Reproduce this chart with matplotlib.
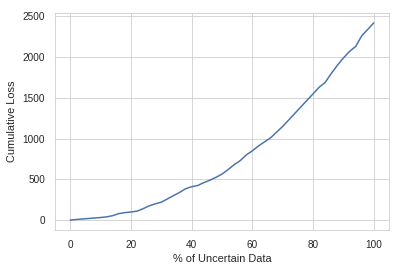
import matplotlib
matplotlib.use("Agg")
import matplotlib.pyplot as plt
import seaborn as sns

# cumulative loss
pct_incierto = [0, 2, 4, 6, 8, 10, 12, 14, 16, 18, 20, 22, 24, 26, 28, 30, 32, 34, 36, 38,
                40, 42, 44, 46, 48, 50, 52, 54, 56, 58, 60, 62, 64, 66, 68, 70, 72, 74, 76, 78,
                80, 82, 84, 86, 88, 90, 92, 94, 96, 98, 100]
perdida_acum = [0, 8, 14, 20, 26, 32, 40, 55, 80, 92, 100, 110, 140, 175, 200, 220, 260, 300, 340, 385,
                410, 425, 460, 490, 525, 565, 620, 680, 730, 800, 850, 910, 960, 1010, 1080, 1150, 1230, 1310, 1390, 1470,
                1550, 1630, 1690, 1800, 1900, 1990, 2070, 2130, 2260, 2340, 2420]

sns.set_style("whitegrid")
plt.rcParams['font.family'] = ['Liberation Sans', 'DejaVu Sans']
plt.rcParams['font.size'] = 11

fig, ax = plt.subplots(figsize=(403 / 72, 271 / 72), dpi=72)
fig.subplots_adjust(left=55 / 403, right=389 / 403, top=1 - 13 / 271, bottom=1 - 230 / 271)
ax.plot(pct_incierto, perdida_acum, color="#4c72b0", linewidth=1.5)
ax.set_xlabel("% of Uncertain Data", fontsize=11, color="#262626", labelpad=4)
ax.set_ylabel("Cumulative Loss", fontsize=11, color="#262626", labelpad=6)
ax.tick_params(labelsize=10, pad=6.5, labelcolor="#262626")
fig.savefig("out.png", dpi=72)
